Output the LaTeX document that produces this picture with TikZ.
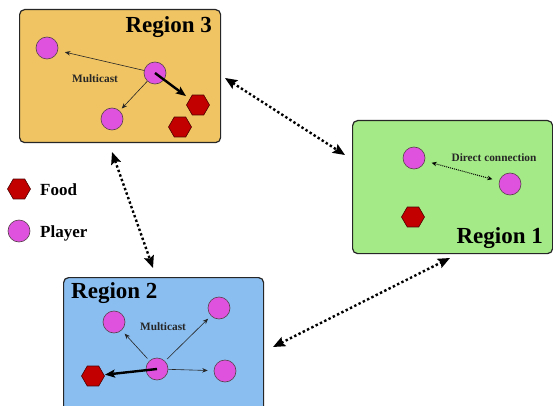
\documentclass[tikz,border=0pt]{standalone}
\usepackage{fontspec}
\setmainfont{Liberation Serif}
\usetikzlibrary{arrows.meta,shapes.geometric}
\definecolor{rthree}{RGB}{240,196,98}
\definecolor{rone}{RGB}{164,234,134}
\definecolor{rtwo}{RGB}{138,190,240}
\definecolor{playercol}{RGB}{222,82,222}
\definecolor{foodcol}{RGB}{195,0,0}
\begin{document}
\begin{tikzpicture}[x=1pt,y=-1pt,
  region/.style={draw=black!85, line width=1.2pt, rounded corners=5pt, inner sep=0pt},
  player/.style={circle, draw=black!75!magenta, fill=playercol, minimum size=22pt, inner sep=0pt, line width=0.6pt},
  food/.style={regular polygon, regular polygon sides=6, draw=black!70!red, fill=foodcol, minimum size=23pt, inner sep=0pt, line width=0.6pt},
  title/.style={font=\bfseries\fontsize{23}{23}\selectfont, inner sep=0pt},
  legend/.style={font=\bfseries\fontsize{17}{17}\selectfont, inner sep=0pt, anchor=base west},
  small/.style={font=\bfseries\fontsize{11.3}{12}\selectfont, inner sep=0pt, text=black!85},
  thin/.style={-{Stealth[length=5.5pt,width=4.5pt]}, line width=0.6pt, black!85},
  thick/.style={-{Stealth[length=10pt,width=8pt,inset=2pt]}, line width=2.4pt},
  link/.style={{Stealth[length=12pt,width=10pt,inset=2pt]}-{Stealth[length=12pt,width=10pt,inset=2pt]}, line width=2.4pt, dash pattern=on 2.4pt off 2.4pt},
  direct/.style={{Stealth[length=5pt,width=4.5pt]}-{Stealth[length=5pt,width=4.5pt]}, line width=1pt, dash pattern=on 1pt off 1pt}
]
\clip (0,0) rectangle (553,406);
\fill[white] (0,0) rectangle (553,406);

% regions
\node[region, fill=rthree, minimum width=201pt, minimum height=133pt, anchor=north west] (r3) at (19,9) {};
\node[region, fill=rone, minimum width=200pt, minimum height=133pt, anchor=north west] (r1) at (352,120) {};
\node[region, fill=rtwo, minimum width=200pt, minimum height=145pt, anchor=north west] (r2) at (63,277) {};

\node[title, anchor=base east] (t3) at (212,33) {Region 3};
\node[title, anchor=base east] (t1) at (543,243) {Region 1};
\node[title, anchor=base west] (t2) at (71,298) {Region 2};

% region 3 contents
\node[player] (p3a) at (47,48) {};
\node[player] (p3b) at (155,73) {};
\node[player] (p3c) at (112,119) {};
\node[food] (f3a) at (198,105) {};
\node[food] (f3b) at (180,127) {};
\node[small] (m3) at (95,79) {Multicast};
\draw[thin, shorten >=7pt] (p3b) -- (p3a);
\draw[thin, shorten >=3pt] (p3b) -- (p3c);
\draw[thick, shorten >=15pt] (p3b.center) -- (f3a.center);

% region 1 contents
\node[player] (p1a) at (414,158) {};
\node[player] (p1b) at (510,184) {};
\node[food] (f1) at (413,217) {};
\node[small] (dc) at (494,158) {Direct connection};
\draw[direct, shorten <=7pt, shorten >=7pt] (p1a) -- (p1b);

% region 2 contents
\node[player] (p2a) at (114,322) {};
\node[player] (p2b) at (219,308) {};
\node[player] (p2c) at (157,369) {};
\node[player] (p2d) at (225,371) {};
\node[food] (f2) at (93,376) {};
\node[small] (m2) at (163,327) {Multicast};
\draw[thin, shorten >=4.5pt, shorten <=3pt] (p2c) -- (p2a);
\draw[thin, shorten >=4pt, shorten <=3pt] (p2c) -- (p2b);
\draw[thin, shorten >=6pt] (p2c) -- (p2d);
\draw[thick, shorten >=12pt] (p2c.center) -- (f2.center);

% legend
\node[food] (lf) at (19,189) {};
\node[legend] (lft) at (40,195) {Food};
\node[player] (lp) at (19,231) {};
\node[legend] (lpt) at (40,237) {Player};

% links between regions
\coordinate (a31) at (225,78);
\coordinate (a13) at (345,155);
\coordinate (a32) at (112,152);
\coordinate (a23) at (153,268);
\coordinate (a21) at (273,347);
\coordinate (a12) at (450,258);
\draw[link] (a31) -- (a13);
\draw[link] (a32) -- (a23);
\draw[link] (a21) -- (a12);
\end{tikzpicture}
\end{document}
